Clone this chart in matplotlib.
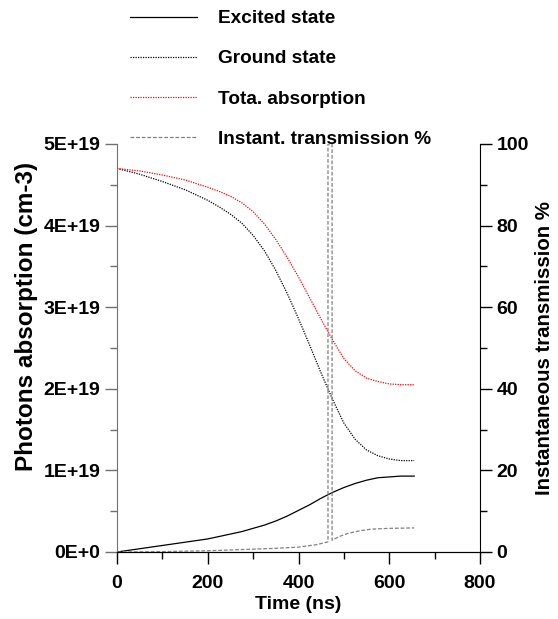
import matplotlib.pyplot as plt
from matplotlib.ticker import MultipleLocator

plt.rcParams['font.family'] = ['Liberation Sans', 'DejaVu Sans']
plt.rcParams['font.weight'] = 'bold'

# time axis (ns)
time = [0, 50, 100, 150, 200, 225, 250, 275, 300, 325, 350, 375, 400, 425,
        450, 475, 500, 525, 550, 575, 600, 625, 655]
# photon absorption, in units of 1E19 cm-3
excited = [0, 0.04, 0.08, 0.12, 0.16, 0.19, 0.22, 0.25, 0.29, 0.33, 0.38, 0.44,
           0.51, 0.58, 0.66, 0.73, 0.79, 0.84, 0.88, 0.91, 0.92, 0.93, 0.93]
ground = [4.70, 4.63, 4.54, 4.44, 4.31, 4.23, 4.14, 4.03, 3.88, 3.69, 3.45, 3.17,
          2.86, 2.53, 2.19, 1.87, 1.58, 1.38, 1.25, 1.18, 1.14, 1.12, 1.12]
total = [4.70, 4.67, 4.62, 4.56, 4.47, 4.42, 4.36, 4.28, 4.17, 4.02, 3.83, 3.61,
         3.37, 3.11, 2.85, 2.60, 2.37, 2.22, 2.13, 2.09, 2.06, 2.05, 2.05]

# instantaneous transmission (%)
trans_time = [0, 100, 200, 300, 350, 400, 440, 465, 465, 474, 474, 490, 510,
              535, 560, 600, 655]
trans = [0, 0.1, 0.3, 0.7, 0.9, 1.2, 1.8, 2.5, 100, 100, 2.9, 3.8, 4.6,
         5.2, 5.6, 5.8, 5.9]

fig = plt.figure(figsize=(5.58, 6.19), dpi=100)
ax = fig.add_axes([117/558, 1 - 552/619, 363/558, (552 - 144)/619])
ax2 = ax.twinx()

l1, = ax.plot(time, [v * 1e19 for v in excited], color='black', lw=0.9)
l2, = ax.plot(time, [v * 1e19 for v in ground], color='black', lw=0.9,
              ls=(0, (1, 1)))
l3, = ax.plot(time, [v * 1e19 for v in total], color='red', lw=0.9,
              ls=(0, (1, 1)))
l4, = ax2.plot(trans_time, trans, color='gray', lw=0.9, ls=(0, (3, 1.5)))

ax.set_xlim(0, 800)
ax.set_ylim(0, 5e19)
ax2.set_ylim(0, 100)

ax.xaxis.set_major_locator(MultipleLocator(200))
ax.xaxis.set_minor_locator(MultipleLocator(100))
ax.yaxis.set_minor_locator(MultipleLocator(0.5e19))
ax2.yaxis.set_major_locator(MultipleLocator(20))
ax2.yaxis.set_minor_locator(MultipleLocator(10))

ylabels = ['0E+0', '1E+19', '2E+19', '3E+19', '4E+19', '5E+19']
ax.set_yticks([i * 1e19 for i in range(6)])
ax.set_yticklabels(ylabels)

for a in (ax, ax2):
    a.spines['top'].set_visible(False)
ax.spines['left'].set_color('#707070')
ax2.spines['left'].set_visible(False)
ax.spines['right'].set_visible(False)

ax.tick_params(axis='both', which='major', direction='out', length=8.5,
               width=1, labelsize=14, pad=3.5)
ax.tick_params(axis='x', which='major', pad=8)
ax.tick_params(axis='both', which='minor', direction='out', length=5, width=1)
ax.tick_params(axis='y', which='both', color='#707070')
ax2.tick_params(axis='y', which='major', direction='out', length=8.5,
                width=1, labelsize=14, pad=3.5)
ax2.tick_params(axis='y', which='minor', direction='out', length=5, width=1)

for lab in ax.get_xticklabels() + ax.get_yticklabels() + ax2.get_yticklabels():
    lab.set_fontweight('bold')

ax.set_xlabel('Time (ns)', fontsize=14, fontweight='bold')
ax.set_ylabel('Photons absorption (cm-3)', fontsize=17.5, fontweight='bold')
ax2.set_ylabel('Instantaneous transmission %', fontsize=14.7, fontweight='bold',
               rotation=90)
ax.xaxis.set_label_coords(0.5, -0.108)
ax.yaxis.set_label_coords(-0.218, 0.578)
ax2.yaxis.set_label_coords(1.152, 0.5)
ax2.yaxis.label.set_va('top')

fig.legend([l1, l2, l3, l4],
           ['Excited state', 'Ground state', 'Tota. absorption',
            'Instant. transmission %'],
           loc='upper left', bbox_to_anchor=(130/558, 1 - 10/619),
           frameon=False, prop={'weight': 'bold', 'size': 13.7},
           handlelength=3.5, handletextpad=1.1, labelspacing=1.2,
           borderpad=0, borderaxespad=0)

fig.savefig('out.png', dpi=100)
